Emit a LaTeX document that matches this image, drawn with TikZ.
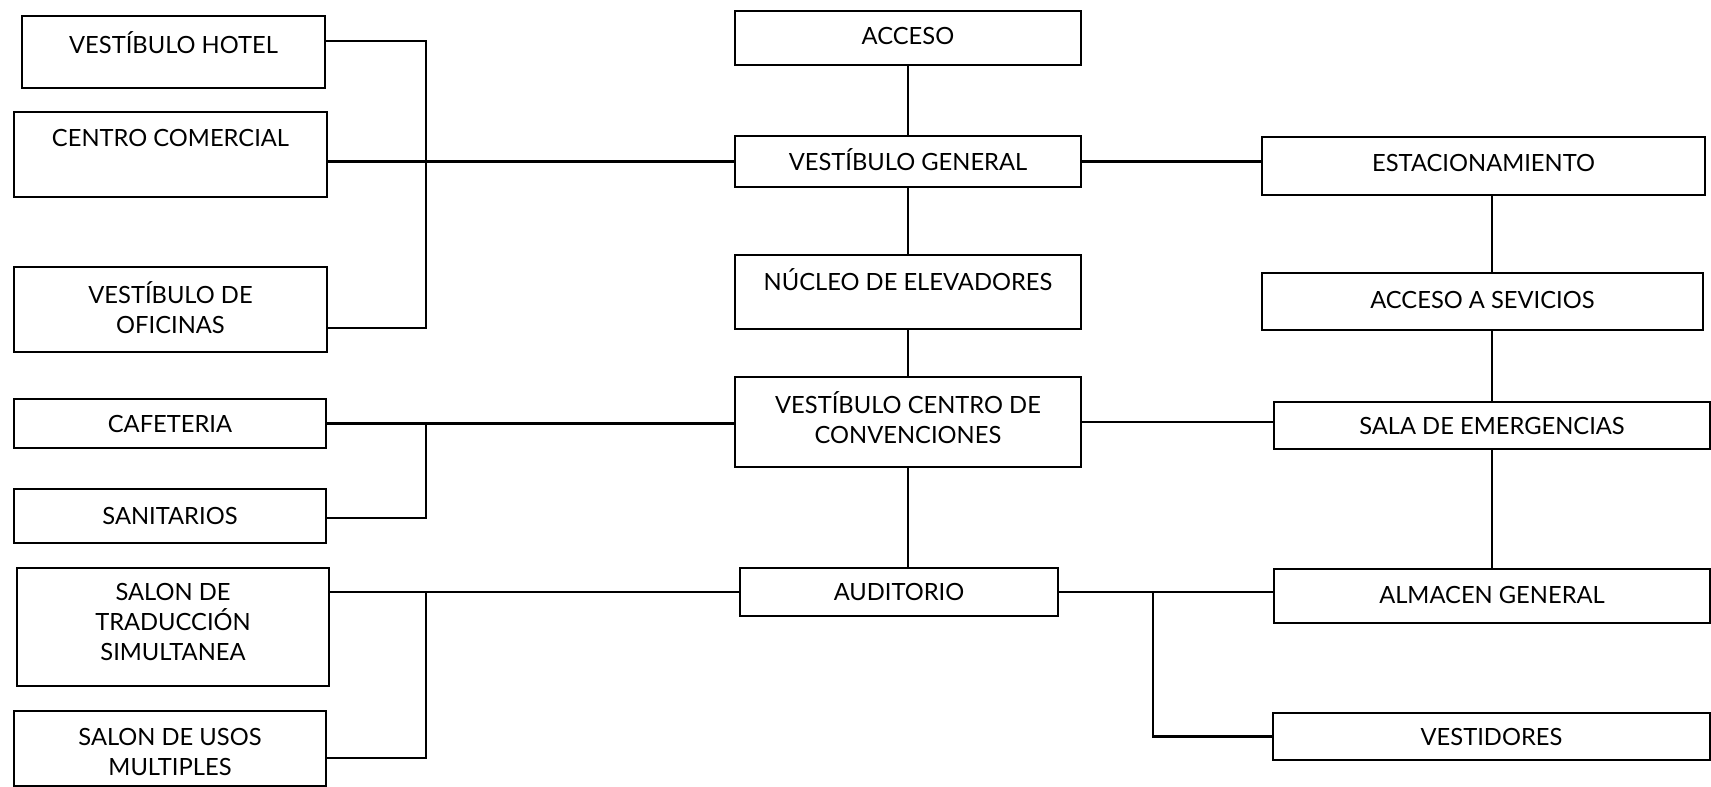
\documentclass[tikz,border=0pt]{standalone}
\usepackage{fontspec}
\setmainfont{Lato}

\begin{document}
\begin{tikzpicture}[x=0.02cm,y=-0.02cm]
        \tikzstyle{every path}=[line width=1.4pt]

        \edef\px{0.02cm}
        \tikzstyle{room}=[draw,inner sep=0pt,outer sep=0pt]
        \tikzstyle{lbl}=[draw=none,align=center,font=\fontsize{13.5}{17}\selectfont]

        \useasboundingbox (0,0) rectangle (1711,787);

        % name/centre x/centre y/width/height/text y/text
        \foreach \nm/\cx/\cy/\w/\h/\ty/\txt in {
            hotel/173.5/52/303/72/43/{VESTÍBULO HOTEL},
            centro/170.5/154.5/313/85/138/{CENTRO COMERCIAL},
            oficinas/170.5/309.5/313/85/307.5/{VESTÍBULO DE\\OFICINAS},
            cafeteria/170/423.5/312/49/424/{CAFETERIA},
            sanitarios/170/516/312/54/516/{SANITARIOS},
            traduccion/173/627/312/118/622/{SALON DE\\TRADUCCIÓN\\SIMULTANEA},
            usos/170/748.5/312/75/752/{SALON DE USOS\\MULTIPLES},
            acceso/908/38/346/54/36/{ACCESO},
            vg/908/161.5/346/51/160/{VESTÍBULO GENERAL},
            nucleo/908/292/346/74/280/{NÚCLEO DE ELEVADORES},
            vcc/908/422/346/90/418/{VESTÍBULO CENTRO DE\\CONVENCIONES},
            auditorio/899/592/318/48/592/{AUDITORIO},
            estac/1483.5/166/443/58/163/{ESTACIONAMIENTO},
            accserv/1482.5/301.5/441/57/300/{ACCESO A SEVICIOS},
            sala/1492/425.5/436/47/426/{SALA DE EMERGENCIAS},
            almacen/1492/596/436/54/595/{ALMACEN GENERAL},
            vestidores/1491.5/736.5/437/47/737/{VESTIDORES}} {
            \node [room,minimum width=\w*\px,minimum height=\h*\px] (\nm) at (\cx,\cy) {};
            \node [lbl] (\nm_label) at (\cx,\ty) {\txt};
        };

        % left side
        \coordinate (lbus_top) at (426,41);
        \coordinate (lbus_bot) at (426,328);
        \coordinate (lbus_san) at (426,518);
        \coordinate (lbus_usos) at (426,758);
        \draw (hotel.east |- lbus_top) -- (lbus_top) -- (lbus_bot) -- (oficinas.east |- lbus_bot);
        \draw (centro.east |- vg.west) -- (vg.west);
        \draw (cafeteria.east) -- (cafeteria.east -| vcc.west);
        \draw (cafeteria.east -| lbus_san) -- (lbus_san) -- (sanitarios.east |- lbus_san);
        \draw (traduccion.east |- auditorio.west) -- (auditorio.west);
        \draw (auditorio.west -| lbus_usos) -- (lbus_usos) -- (usos.east |- lbus_usos);

        % middle column
        \draw (acceso.south) -- (vg.north);
        \draw (vg.south) -- (nucleo.north);
        \draw (nucleo.south) -- (vcc.north);
        \draw (vcc.south) -- (vcc.south |- auditorio.north);

        % right side
        \coordinate (rbus) at (1153,592);
        \draw (vg.east) -- (vg.east -| estac.west);
        \draw (vcc.east) -- (vcc.east -| sala.west);
        \draw (auditorio.east) -- (auditorio.east -| almacen.west);
        \draw (estac.south -| sala.north) -- (accserv.north -| sala.north);
        \draw (accserv.south -| sala.north) -- (sala.north);
        \draw (sala.south) -- (almacen.north);
        \draw (rbus) |- (vestidores.west);

\end{tikzpicture}
\end{document}
